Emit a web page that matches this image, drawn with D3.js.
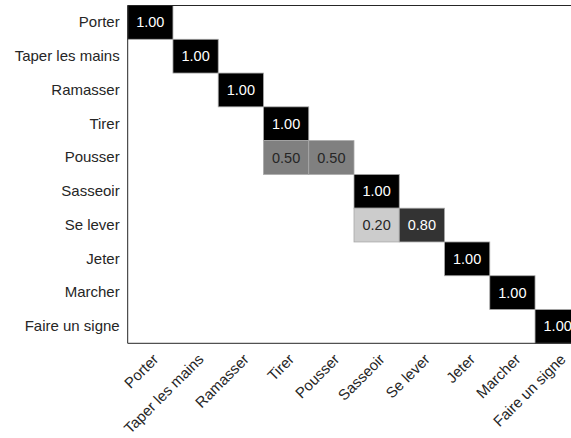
<!DOCTYPE html>
<html>
<head>
<meta charset="utf-8">
<script src="https://cdn.jsdelivr.net/npm/d3@7"></script>
<style>
  html, body { margin: 0; padding: 0; background: #fff; overflow: hidden; }
  svg { display: block; }
  text { font-family: "Liberation Sans", Arial, sans-serif; }
</style>
</head>
<body>
<svg id="chart" width="571" height="438"></svg>
<script>
// Class names (true class on rows, predicted class on columns)
const classes = ["Porter", "Taper les mains", "Ramasser", "Tirer", "Pousser",
                 "Sasseoir", "Se lever", "Jeter", "Marcher", "Faire un signe"];

// Non-zero normalized entries: [row index, column index, value]
const rowIdx = [0, 1, 2, 3, 4, 4, 5, 6, 6, 7, 8, 9];
const colIdx = [0, 1, 2, 3, 3, 4, 5, 5, 6, 7, 8, 9];
const values = [1.00, 1.00, 1.00, 1.00, 0.50, 0.50, 1.00, 0.20, 0.80, 1.00, 1.00, 1.00];

const cells = values.map((v, i) => ({ r: classes[rowIdx[i]], c: classes[colIdx[i]], v }));

const svg = d3.select("#chart");
const mLeft = 127.7, mTop = 5.5, cellW = 45.26, cellH = 33.78;
const n = classes.length;

const x = d3.scaleBand().domain(classes).range([mLeft, mLeft + n * cellW]).padding(0);
const y = d3.scaleBand().domain(classes).range([mTop, mTop + n * cellH]).padding(0);
const shade = d3.scaleLinear().domain([0, 1]).range(["#ffffff", "#000000"]);

// cells
const g = svg.append("g");
g.selectAll("rect.cell")
  .data(cells)
  .join("rect")
  .attr("class", "cell")
  .attr("x", d => x(d.c))
  .attr("y", d => y(d.r))
  .attr("width", x.bandwidth())
  .attr("height", y.bandwidth())
  .attr("fill", d => shade(d.v))
  .attr("stroke", "#a8a8a8")
  .attr("stroke-width", 0.8);

g.selectAll("text.val")
  .data(cells)
  .join("text")
  .attr("class", "val")
  .attr("x", d => x(d.c) + x.bandwidth() / 2)
  .attr("y", d => y(d.r) + y.bandwidth() / 2)
  .attr("text-anchor", "middle")
  .attr("dominant-baseline", "central")
  .attr("font-size", "14.5px")
  .attr("fill", d => d.v > 0.6 ? "#ffffff" : "#262626")
  .text(d => d.v.toFixed(2));

// axis frame: left, top, bottom lines
const x0 = mLeft, x1 = 571, y0 = mTop, y1 = mTop + n * cellH;
const frame = svg.append("g").attr("stroke", "#262626").attr("stroke-width", 1).attr("fill", "none");
frame.append("line").attr("x1", x0).attr("x2", x0).attr("y1", y0).attr("y2", y1);
frame.append("line").attr("x1", x0).attr("x2", x1).attr("y1", y0).attr("y2", y0);
frame.append("line").attr("x1", x0).attr("x2", x1).attr("y1", y1).attr("y2", y1);

// row labels
const yAxis = d3.axisLeft(y).tickSize(0).tickPadding(8);
const ya = svg.append("g").attr("transform", `translate(${mLeft},0)`).call(yAxis);
ya.select(".domain").remove();
ya.selectAll("text").attr("font-size", "15px").attr("fill", "#262626")
  .attr("font-family", "'Liberation Sans', Arial, sans-serif");

// column labels, rotated
const xAxis = d3.axisBottom(x).tickSize(0).tickPadding(0);
const xa = svg.append("g").attr("transform", `translate(0,${y1})`).call(xAxis);
xa.select(".domain").remove();
xa.selectAll("text")
  .attr("font-size", "15px").attr("fill", "#262626")
  .attr("font-family", "'Liberation Sans', Arial, sans-serif")
  .attr("text-anchor", "end")
  .attr("dy", null)
  .attr("y", 0)
  .attr("transform", "translate(9,17) rotate(-45)");
</script>
</body>
</html>
